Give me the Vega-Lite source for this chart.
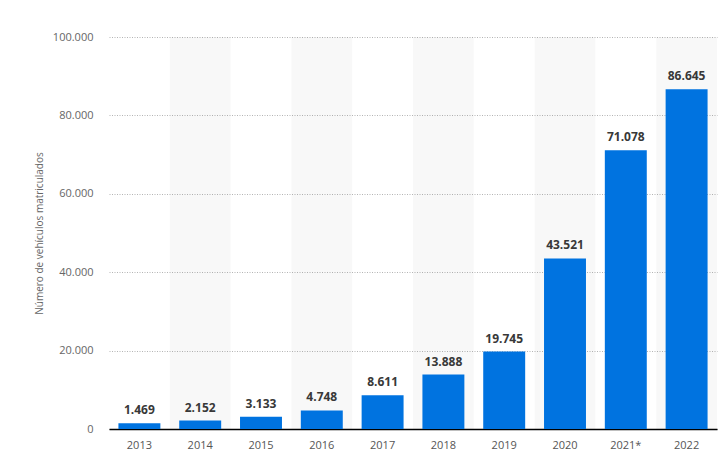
{
  "$schema": "https://vega.github.io/schema/vega-lite/v6.json",
  "autosize": "none",
  "width": 608,
  "height": 392,
  "padding": {"left": 109, "top": 37, "right": 8, "bottom": 39},
  "data": {
    "values": [
      {"year": "2013", "vehicles": 1469},
      {"year": "2014", "vehicles": 2152},
      {"year": "2015", "vehicles": 3133},
      {"year": "2016", "vehicles": 4748},
      {"year": "2017", "vehicles": 8611},
      {"year": "2018", "vehicles": 13888},
      {"year": "2019", "vehicles": 19745},
      {"year": "2020", "vehicles": 43521},
      {"year": "2021*", "vehicles": 71078},
      {"year": "2022", "vehicles": 86645}
    ]
  },
  "encoding": {
    "x": {
      "field": "year",
      "type": "ordinal",
      "scale": {
        "domain": ["2013", "2014", "2015", "2016", "2017", "2018", "2019", "2020", "2021*", "2022"],
        "paddingInner": 0,
        "paddingOuter": 0
      },
      "axis": {
        "title": null,
        "labelAngle": 0,
        "ticks": false,
        "labelPadding": 10,
        "labelFontSize": 11,
        "labelColor": "#555",
        "domainColor": "#000",
        "domainWidth": 1.5,
        "grid": false
      }
    },
    "y": {
      "field": "vehicles",
      "type": "quantitative",
      "scale": {"domain": [0, 100000]},
      "axis": {
        "title": "Número de vehículos matriculados",
        "titleFontSize": 10,
        "titleFontWeight": "normal",
        "titleColor": "#666",
        "titlePadding": 8,
        "values": [0, 20000, 40000, 60000, 80000, 100000],
        "labelExpr": "format(datum.value, ',')",
        "domain": false,
        "ticks": false,
        "labelPadding": 16,
        "labelFontSize": 11,
        "labelColor": "#666",
        "grid": true,
        "gridColor": "#b4b4b4",
        "gridDash": [1, 1.5],
        "gridWidth": 1
      }
    }
  },
  "layer": [
    {
      "transform": [
        {"window": [{"op": "row_number", "as": "idx"}]},
        {"filter": "datum.idx % 2 == 0"}
      ],
      "mark": {"type": "bar", "color": "#000", "opacity": 0.028, "width": {"band": 1}},
      "encoding": {
        "y": {"datum": 100000, "type": "quantitative"},
        "y2": {"datum": 0}
      }
    },
    {
      "mark": {"type": "bar", "color": "#0073e0", "width": {"band": 0.69}}
    },
    {
      "mark": {
        "type": "text",
        "baseline": "bottom",
        "dy": -6,
        "fontSize": 12,
        "fontWeight": "bold",
        "color": "#383838"
      },
      "encoding": {
        "text": {"field": "vehicles", "type": "quantitative", "format": ","}
      }
    }
  ],
  "config": {
    "locale": {
      "number": {
        "decimal": ",",
        "thousands": ".",
        "grouping": [3],
        "currency": ["", " €"]
      }
    },
    "font": "Open Sans",
    "view": {"stroke": null}
  }
}
